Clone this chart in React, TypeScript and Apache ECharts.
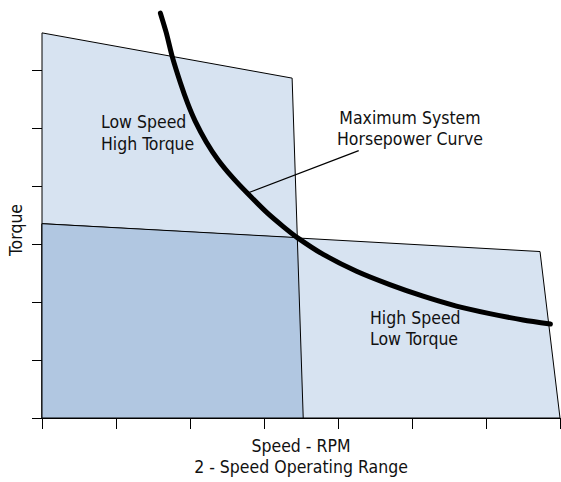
import React, { useEffect, useRef } from "react";
import * as echarts from "echarts";

// Axis ticks (arbitrary units, no labels in the original)
const xTicks = [0, 1, 2, 3, 4, 5, 6, 7];
const yTicks = [0, 1, 2, 3, 4, 5, 6];

// Operating regions (speed, torque)
const lowSpeedRegion = [
  [0, 6.64],
  [3.38, 5.86],
  [3.53, 0],
  [0, 0],
];
const highSpeedRegion = [
  [0, 3.35],
  [6.73, 2.87],
  [7.0, 0],
  [0, 0],
];
const overlapRegion = [
  [0, 3.35],
  [3.45, 3.11],
  [3.53, 0],
  [0, 0],
];

// Maximum system horsepower curve
const curveSpeed = [
  1.6, 1.68, 1.76, 1.87, 1.97, 2.07, 2.22, 2.38, 2.58, 2.78, 3.04, 3.26, 3.45,
  3.8, 4.25, 4.7, 5.15, 5.6, 6.05, 6.5, 6.87,
];
const curveTorque = [
  6.98, 6.64, 6.23, 5.78, 5.42, 5.12, 4.76, 4.45, 4.14, 3.87, 3.54, 3.3, 3.11,
  2.82, 2.53, 2.3, 2.1, 1.93, 1.8, 1.69, 1.62,
];

// Leader line from annotation to curve
const leaderSpeed = [2.78, 4.28];
const leaderTorque = [3.88, 4.61];

const FONT = "'DejaVu Sans Condensed', 'Liberation Sans Narrow', 'DejaVu Sans', sans-serif";

export default function App() {
  const ref = useRef<HTMLDivElement>(null);

  useEffect(() => {
    if (!ref.current) return;
    const chart = echarts.init(ref.current, undefined, { renderer: "svg" });
    const regions = [lowSpeedRegion, highSpeedRegion, overlapRegion];
    const fills = ["#d7e3f1", "#d7e3f1", "#b1c7e1"];

    chart.setOption({
      animation: false,
      backgroundColor: "#ffffff",
      grid: { left: 42, right: 1, top: 70, bottom: 63 },
      xAxis: {
        type: "value",
        min: xTicks[0],
        max: xTicks[xTicks.length - 1],
        interval: 1,
        axisLine: { show: true, lineStyle: { color: "#000", width: 1 } },
        axisTick: { show: true, length: 11, lineStyle: { color: "#000", width: 1 } },
        axisLabel: { show: false },
        splitLine: { show: false },
        name: "Speed - RPM\n2 - Speed Operating Range",
        nameLocation: "middle",
        nameGap: 17,
        nameTextStyle: {
          color: "#111",
          fontFamily: FONT,
          fontSize: 17.5,
          lineHeight: 21,
          verticalAlign: "top",
        },
      },
      yAxis: {
        type: "value",
        min: yTicks[0],
        max: yTicks[yTicks.length - 1],
        interval: 1,
        axisLine: { show: true, lineStyle: { color: "#000", width: 1 } },
        axisTick: { show: true, length: 10, lineStyle: { color: "#000", width: 1 } },
        axisLabel: { show: false },
        splitLine: { show: false },
      },
      graphic: [
        {
          type: "text",
          x: 16,
          y: 230,
          rotation: Math.PI / 2,
          style: {
            text: "Torque",
            fill: "#111",
            font: `17.5px ${FONT}`,
            align: "center",
            verticalAlign: "middle",
          },
          z: 100,
        },
        {
          type: "text",
          x: 101,
          y: 133,
          style: {
            text: "Low Speed\nHigh Torque",
            fill: "#111",
            font: `17.5px ${FONT}`,
            lineHeight: 21.5,
            align: "left",
            verticalAlign: "middle",
          },
          z: 100,
        },
        {
          type: "text",
          x: 370,
          y: 328.5,
          style: {
            text: "High Speed\nLow Torque",
            fill: "#111",
            font: `17.5px ${FONT}`,
            lineHeight: 21,
            align: "left",
            verticalAlign: "middle",
          },
          z: 100,
        },
        {
          type: "text",
          x: 410,
          y: 128.5,
          style: {
            text: "Maximum System\nHorsepower Curve",
            fill: "#111",
            font: `17.5px ${FONT}`,
            lineHeight: 21.5,
            align: "center",
            verticalAlign: "middle",
          },
          z: 100,
        },
      ],
      series: [
        {
          type: "custom",
          clip: false,
          silent: true,
          z: 1,
          data: regions.map((_, i) => [i]),
          renderItem: (params: any, api: any) => {
            const poly = regions[params.dataIndex];
            const points = poly.map((p) => api.coord(p));
            return {
              type: "polygon",
              shape: { points },
              style: {
                fill: fills[params.dataIndex],
                stroke: "#000",
                lineWidth: 1,
              },
            };
          },
        },
        {
          type: "line",
          clip: false,
          z: 3,
          data: leaderSpeed.map((x, i) => [x, leaderTorque[i]]),
          showSymbol: false,
          lineStyle: { color: "#000", width: 1.2 },
        },
        {
          type: "line",
          clip: false,
          z: 4,
          smooth: 0.25,
          data: curveSpeed.map((x, i) => [x, curveTorque[i]]),
          showSymbol: false,
          lineStyle: { color: "#000", width: 5, cap: "round" },
        },
      ],
    });

    return () => chart.dispose();
  }, []);

  return (
    <div
      ref={ref}
      style={{ position: "fixed", left: 0, top: 0, width: 561, height: 482 }}
    />
  );
}
